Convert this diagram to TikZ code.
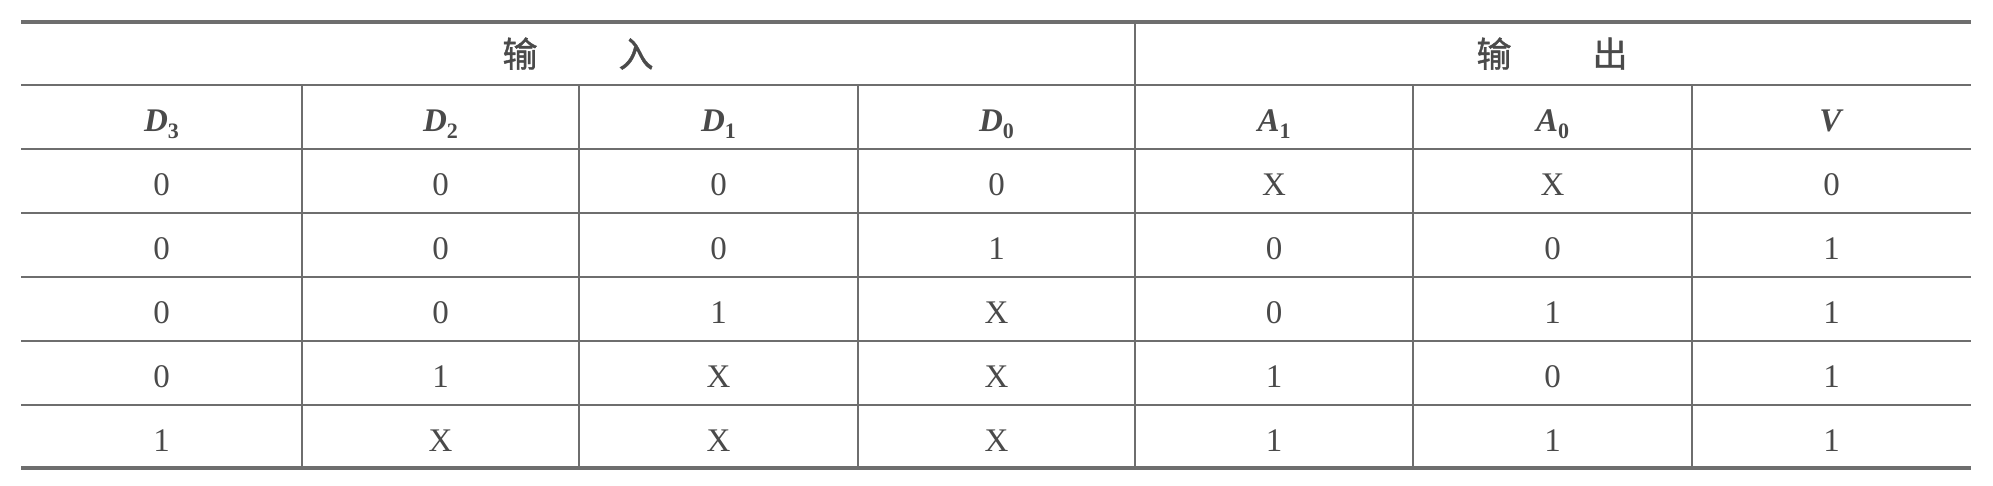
\documentclass[tikz,border=0pt]{standalone}
\usepackage{fontspec}
\setmainfont{Liberation Serif}
\newfontfamily\cjk[FakeBold=1.2]{Noto Sans CJK SC}
\definecolor{rule}{HTML}{6E6E6E}
\definecolor{ink}{HTML}{4A4A4A}
\newcommand{\hv}[2]{\textbf{\textit{#1}}\raisebox{-0.22em}{\fontsize{22}{24}\selectfont\textbf{#2}}}
\begin{document}
\begin{tikzpicture}[x=1pt,y=-1pt,
  thick rule/.style={draw=rule,line width=3.3pt},
  thin rule/.style={draw=rule,line width=1.7pt},
  cell/.style={anchor=base,inner sep=0pt,text=ink,font=\fontsize{33}{36}\selectfont},
  cjkcell/.style={anchor=base,inner sep=0pt,text=ink,font=\cjk\fontsize{35}{38}\selectfont}]
\useasboundingbox (0,0) rectangle (1993,485);
% column borders
\foreach \n/\x in {0/21,1/302,2/579,3/858,4/1135,5/1413,6/1692,7/1971}{
  \coordinate (c\n) at (\x,0);
}
% horizontal rules
\foreach \y in {85,149,213,277,341,405}{
  \draw[thin rule] (21,\y) -- (1971,\y);
}
\draw[thick rule] (21,22) -- (1971,22);
\draw[thick rule] (21,468) -- (1971,468);
% vertical rules
\foreach \x in {302,579,858,1413,1692}{
  \draw[thin rule] (\x,85) -- (\x,468);
}
\draw[thin rule] (1135,22) -- (1135,468);
% group headers
\node[cjkcell] (in1) at (520,67) {输};
\node[cjkcell] (in2) at (636,67) {入};
\node[cjkcell] (out1) at (1494,67) {输};
\node[cjkcell] (out2) at (1610,67) {出};
% column headers
\foreach \i/\t in {1/{\hv{D}{3}},2/{\hv{D}{2}},3/{\hv{D}{1}},4/{\hv{D}{0}},5/{\hv{A}{1}},6/{\hv{A}{0}},7/{\textbf{\textit{V}}}}{
  \pgfmathtruncatemacro{\j}{\i-1}
  \path (c\j) -- (c\i) coordinate[midway] (m\i);
  \node[cell] (h\i) at ([yshift=-131pt]m\i) {\t};
}
% body
\foreach \r/\y/\vals in {1/195/{0,0,0,0,X,X,0},2/259/{0,0,0,1,0,0,1},3/323/{0,0,1,X,0,1,1},4/387/{0,1,X,X,1,0,1},5/451/{1,X,X,X,1,1,1}}{
  \foreach \v [count=\k] in \vals {
    \node[cell] (r\r c\k) at ([yshift=-\y pt]m\k) {\v};
  }
}
\end{tikzpicture}
\end{document}
